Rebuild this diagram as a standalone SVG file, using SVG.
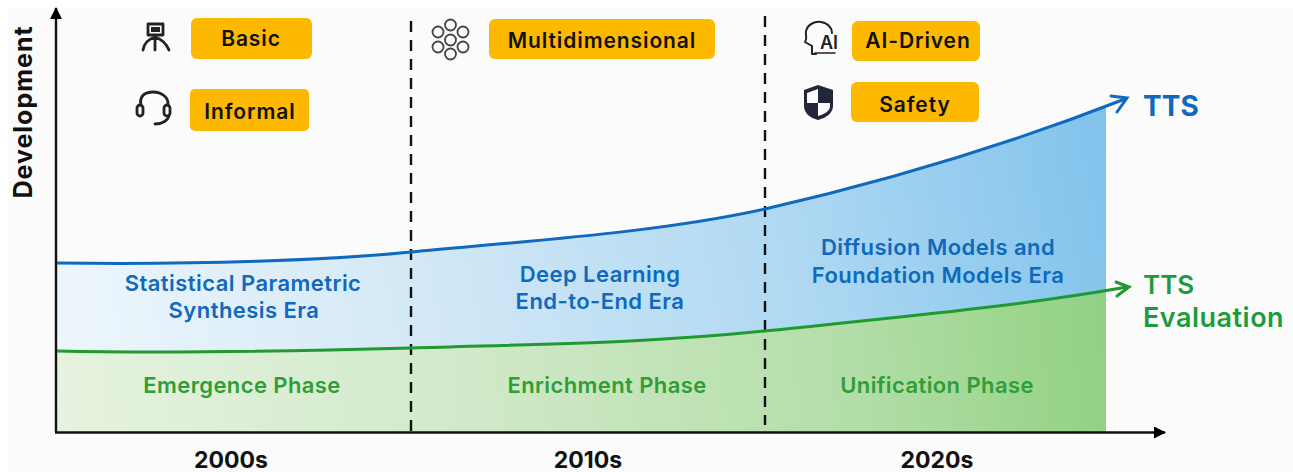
<svg xmlns="http://www.w3.org/2000/svg" width="1293" height="472" viewBox="0 0 1293 472">
<style>
text{font-family:Inter,"Noto Sans","Liberation Sans",sans-serif}
.tag{fill:#fdb900}
.tl{font-size:21px;font-weight:600;fill:#111;text-anchor:middle;letter-spacing:.9px}
.b{font-size:22px;font-weight:600;fill:#0f69bd;text-anchor:middle;letter-spacing:.45px}
.g{font-size:22px;font-weight:600;fill:#2f9e36;text-anchor:middle;letter-spacing:.4px}
.yr{font-size:23px;font-weight:700;fill:#111;text-anchor:middle}
.ic{fill:none;stroke:#222;stroke-width:2.800;stroke-linecap:round;stroke-linejoin:round}
.dash{stroke:#111;stroke-width:2.400;stroke-dasharray:11 8;fill:none}
</style>
<defs>
<linearGradient id="bg" gradientUnits="userSpaceOnUse" x1="60" y1="350" x2="1106" y2="150"><stop offset="0" stop-color="#eef6fc"/><stop offset=".35" stop-color="#d2e8f6"/><stop offset=".7" stop-color="#aed8f2"/><stop offset="1" stop-color="#82c3ec"/></linearGradient>
<linearGradient id="gg" gradientUnits="userSpaceOnUse" x1="60" y1="430" x2="1106" y2="320"><stop offset="0" stop-color="#e6f3e0"/><stop offset=".4" stop-color="#d0e9c8"/><stop offset=".75" stop-color="#b3dea8"/><stop offset="1" stop-color="#92d183"/></linearGradient>
<marker id="ah" markerUnits="userSpaceOnUse" markerWidth="14" markerHeight="14" refX="11" refY="6" orient="auto"><path d="M0 0L12 6L0 12Z" fill="#000"/></marker>
</defs>
<rect x="8" y="8" width="1285" height="464" fill="#fbfbfb"/>
<g id="areas">
<path d="M57 263C200 265 330 260 411 252C540 240 660 232 765 209C900 178 1020 140 1106 106V294C1020 306 900 317 765 331C650 343 540 344 411 348C300 351 150 353 57 351Z" fill="url(#bg)"/>
<path d="M57 351C150 353 300 351 411 348C540 344 650 343 765 331C900 317 1020 306 1106 293V432H57Z" fill="url(#gg)"/>
</g>
<g id="connectors">
<path d="M56 432V8" stroke="#111" stroke-width="2.400" fill="none" marker-end="url(#ah)"/>
<path d="M55 432.500H1165" stroke="#111" stroke-width="2.400" fill="none" marker-end="url(#ah)"/>
<path class="dash" d="M411 21V438"/>
<path class="dash" d="M765 16V425"/>
<path d="M57 263C200 265 330 260 411 252C540 240 660 232 765 209C900 178 1020 140 1125 99" fill="none" stroke="#0f69bd" stroke-width="3"/>
<path d="M1111 96L1127 98L1117 112" fill="none" stroke="#0f69bd" stroke-width="3" stroke-linecap="round"/>
<path d="M57 351C150 353 300 351 411 348C540 344 650 343 765 331C900 317 1020 306 1127 287" fill="none" stroke="#1f9a2e" stroke-width="3"/>
<path d="M1116 282L1129 287L1117 296" fill="none" stroke="#1f9a2e" stroke-width="3" stroke-linecap="round"/>
</g>
<g id="axis-labels">
<text transform="translate(32 112) rotate(-90)" font-size="25" font-weight="700" letter-spacing="1" fill="#111" text-anchor="middle">Development</text>
<text class="yr" x="231" y="468">2000s</text>
<text class="yr" x="588" y="468">2010s</text>
<text class="yr" x="937" y="468">2020s</text>
</g>
<g id="tag-basic"><rect class="tag" x="191" y="18" width="121" height="41" rx="6"/><text class="tl" x="251" y="46">Basic</text></g>
<g id="tag-informal"><rect class="tag" x="190" y="89" width="119" height="42" rx="5"/><text class="tl" x="250" y="119">Informal</text></g>
<g id="tag-multidimensional"><rect class="tag" x="489" y="19" width="226" height="40" rx="6"/><text class="tl" x="602" y="48">Multidimensional</text></g>
<g id="tag-ai-driven"><rect class="tag" x="852" y="21" width="128" height="40" rx="6"/><text class="tl" x="918" y="48">AI-Driven</text></g>
<g id="tag-safety"><rect class="tag" x="851" y="82" width="128" height="40" rx="6"/><text class="tl" x="915" y="112">Safety</text></g>
<g id="icon-basic" class="ic">
<rect x="148" y="24" width="15" height="11"/><rect x="151" y="27" width="9" height="5" fill="#222" stroke="none"/><path d="M155 36V50M155 37C149 39 144 43 143 50M155 37C161 39 166 43 169 50"/>
</g>
<g id="icon-informal" class="ic">
<path d="M141 105C139 96 145 92 153 92C161 92 169 97 168 105"/><rect x="137" y="105" width="6" height="11" rx="3"/><rect x="164" y="105" width="6" height="11" rx="3"/><path d="M169 116C168 120 163 124 155 124"/>
</g>
<g id="icon-multi" fill="none" stroke="#444" stroke-width="1.800">
<circle cx="450.500" cy="25" r="5.500"/><circle cx="438" cy="32" r="5.500"/><circle cx="463" cy="32" r="5.500"/><circle cx="450.500" cy="40" r="5.500"/><circle cx="438" cy="47" r="5.500"/><circle cx="463" cy="47" r="5.500"/><circle cx="450.500" cy="54" r="5.500"/>
</g>
<g id="icon-ai" class="ic" style="stroke-width:2">
<path d="M816 54H812V46L805 42C808 38 805 36 806 31C808 24 815 21 821 22C828 23 832 28 832 33"/><path d="M815 53H835" stroke-width="1.500"/>
<text x="829" y="49" font-size="18" font-weight="600" fill="#222" stroke="none" text-anchor="middle">AI</text>
</g>
<g id="icon-safety">
<path d="M818 85L833 90V106C833 113 826 118 818 120C810 118 804 113 804 106V90Z" fill="#22263a"/>
<path d="M818 89L807 93V103H818ZM818 103H830V106C830 111 825 114 818 116Z" fill="#fbfbfb"/>
</g>
<g id="labels">
<text class="b" x="243" y="291">Statistical Parametric</text><text class="b" x="244" y="318">Synthesis Era</text>
<text class="b" x="600" y="282">Deep Learning</text><text class="b" x="600" y="309">End-to-End Era</text>
<text class="b" x="938" y="255">Diffusion Models and</text><text class="b" x="938" y="283">Foundation Models Era</text>
<text class="g" x="242" y="393">Emergence Phase</text>
<text class="g" x="607" y="393">Enrichment Phase</text>
<text class="g" x="937" y="393">Unification Phase</text>
<text x="1143" y="116" font-size="28" font-weight="700" fill="#0f69bd">TTS</text>
<text x="1143" y="294" font-size="26" font-weight="600" fill="#1f9a3e">TTS</text>
<text x="1143" y="327" font-size="27" font-weight="600" letter-spacing=".5" fill="#1f9a3e">Evaluation</text>
</g>
</svg>
